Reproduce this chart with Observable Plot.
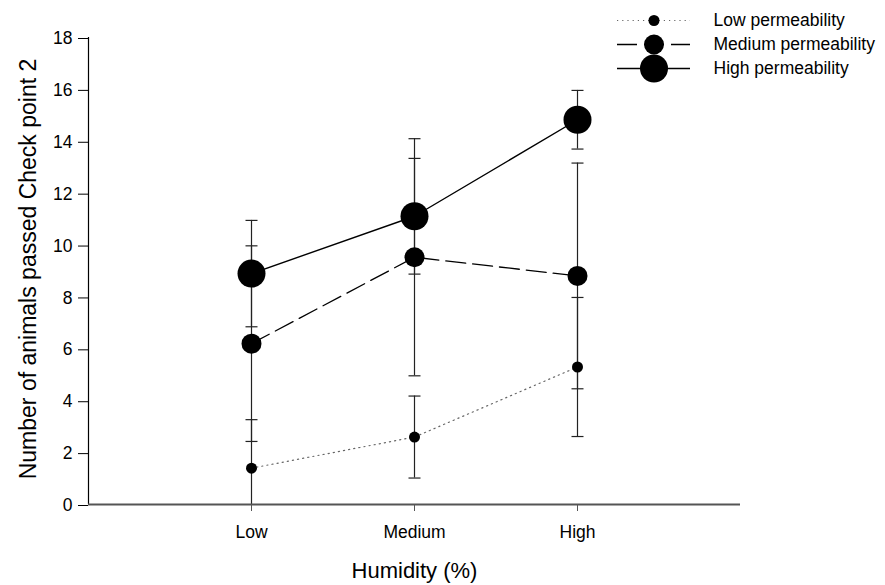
<!DOCTYPE html>
<html>
<head>
<meta charset="utf-8">
<script src="https://cdn.jsdelivr.net/npm/d3@7"></script>
<script src="https://cdn.jsdelivr.net/npm/@observablehq/plot@0.6"></script>
<style>
  html, body { margin: 0; padding: 0; background: #fff; }
  #wrap { position: relative; width: 885px; height: 585px; }
  #legend { position: absolute; left: 600px; top: 0px; }
</style>
</head>
<body>
<div id="wrap"><div id="chart"></div><div id="legend"></div></div>
<script>
const humidity = ["Low", "Medium", "High"];
const seriesNames = ["Low permeability", "Medium permeability", "High permeability"];
const lowMean = [1.4, 2.6, 5.3];
const lowSD = [1.87, 1.58, 2.68];
const medMean = [6.2, 9.53, 8.81];
const medSD = [3.77, 4.57, 4.35];
const highMean = [8.9, 11.11, 14.83];
const highSD = [2.05, 2.23, 1.13];
const yTicks = [0, 2, 4, 6, 8, 10, 12, 14, 16, 18];

const font = "'Liberation Sans', Arial, sans-serif";
const means = [lowMean, medMean, highMean];
const sds = [lowSD, medSD, highSD];
const styles = [
  {r: 5.5, dash: "1.2,4", stroke: "#666", width: 1.2},
  {r: 10, dash: "20,7", stroke: "#000", width: 1.3},
  {r: 14, dash: null, stroke: "#000", width: 1.4}
];
const rows = seriesNames.map((s, k) => humidity.map((h, i) => ({
  series: s, h, x: i + 1, mean: means[k][i], lo: means[k][i] - sds[k][i], hi: means[k][i] + sds[k][i]
})));
const all = rows.flat();

const capSymbol = {draw(ctx) { ctx.moveTo(-6, 0); ctx.lineTo(6, 0); }};

const marks = [
  Plot.ruleX(all, {x: "x", y1: "lo", y2: "hi", stroke: "#222", strokeWidth: 1.2, clip: true}),
  Plot.dot(all, {x: "x", y: "lo", symbol: capSymbol, fill: "none", stroke: "#222", strokeWidth: 1.2, clip: true}),
  Plot.dot(all, {x: "x", y: "hi", symbol: capSymbol, fill: "none", stroke: "#222", strokeWidth: 1.2, clip: true})
];
rows.forEach((r, k) => {
  const st = styles[k];
  marks.push(Plot.line(r, {x: "x", y: "mean", stroke: st.stroke, strokeWidth: st.width, strokeDasharray: st.dash}));
});
rows.forEach((r, k) => {
  marks.push(Plot.dot(r, {x: "x", y: "mean", r: styles[k].r, fill: "#000", stroke: "none"}));
});
marks.push(
  Plot.ruleX([0], {stroke: "#000", strokeWidth: 1.2}),
  Plot.ruleY([0], {stroke: "#555", strokeWidth: 1.8}),
  Plot.axisY({ticks: yTicks, tickSize: 10, tickPadding: 6, fontSize: 17.5, dy: 1, label: null, stroke: "#000"}),
  Plot.axisX({ticks: [1, 2, 3], tickFormat: d => humidity[d - 1], tickSize: 7, tickPadding: 14, fontSize: 17.5, label: null, stroke: "#555"}),
  Plot.text(["Humidity (%)"], {frameAnchor: "bottom", text: d => d, dy: 66, fontSize: 22, textAnchor: "middle", lineAnchor: "middle"}),
  Plot.text(["Number of animals passed Check point 2"], {frameAnchor: "left", text: d => d, dx: -60, dy: -2, rotate: -90, fontSize: 23, textAnchor: "middle", lineAnchor: "middle"})
);

const chart = Plot.plot({
  width: 885,
  height: 585,
  marginLeft: 88,
  marginRight: 145,
  marginTop: 37,
  marginBottom: 81,
  style: {fontFamily: font, background: "#fff", color: "#000"},
  x: {domain: [0, 4]},
  y: {domain: [0, 18]},
  marks
});
document.getElementById("chart").append(chart);

const legendRows = seriesNames.map((s, k) => ({series: s, k}));
const lmarks = [];
legendRows.forEach((d, k) => {
  const st = styles[k];
  lmarks.push(Plot.ruleY([d], {y: "series", x1: 0, x2: 1, stroke: st.stroke, strokeWidth: st.width, strokeDasharray: st.dash}));
  lmarks.push(Plot.dot([d], {x: 0.5, y: "series", r: st.r, fill: "#000", stroke: "none"}));
});
lmarks.push(Plot.text(legendRows, {x: 1, y: "series", text: "series", dx: 23, textAnchor: "start", fontSize: 17.5}));
const legend = Plot.plot({
  width: 285,
  height: 90,
  margin: 0,
  style: {fontFamily: font, background: "transparent", color: "#000", overflow: "visible"},
  x: {domain: [0, 1], range: [17, 90], axis: null},
  y: {type: "point", domain: seriesNames, range: [19, 68], padding: 0, axis: null},
  marks: lmarks
});
document.getElementById("legend").append(legend);
</script>
</body>
</html>
